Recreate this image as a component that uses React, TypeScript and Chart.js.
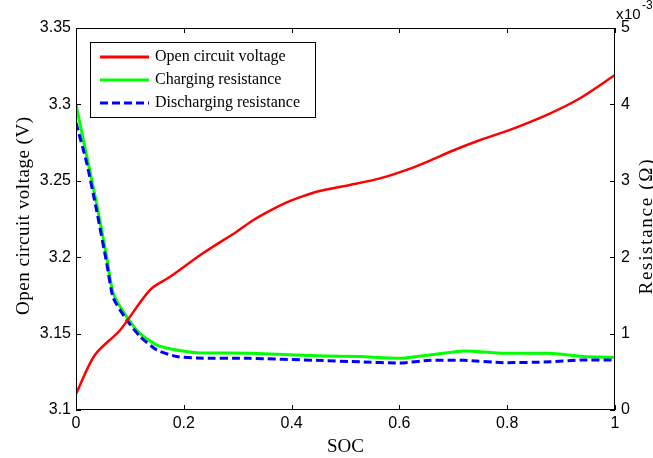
import { useEffect, useRef } from 'react';
import { Chart, registerables } from 'chart.js';

Chart.register(...registerables);

// ---- data ----
const ocvSoc = [0, 0.035, 0.082, 0.137, 0.174, 0.236, 0.298, 0.33, 0.36, 0.39, 0.416, 0.45, 0.508, 0.564, 0.62, 0.66, 0.694, 0.75, 0.805, 0.879, 0.935, 1.0];
const ocvValues = [3.1105, 3.136, 3.1524, 3.1785, 3.187, 3.2027, 3.2167, 3.2245, 3.2305, 3.2357, 3.2393, 3.2432, 3.2473, 3.2516, 3.258, 3.2637, 3.2690, 3.2767, 3.2833, 3.294, 3.304, 3.3192];

const resSoc = [0, 0.02, 0.038, 0.057, 0.069, 0.094, 0.119, 0.15, 0.187, 0.224, 0.323, 0.4465, 0.527, 0.601, 0.657, 0.719, 0.793, 0.879, 0.941, 1.0];
// resistance values in units of 1e-3 Ohm
const chargingRes = [4.0, 3.32, 2.71, 2.0, 1.53, 1.22, 1.0, 0.85, 0.785, 0.75, 0.742, 0.71, 0.7, 0.676, 0.72, 0.772, 0.742, 0.742, 0.7, 0.69];
const dischargingRes = [3.76, 3.23, 2.62, 1.92, 1.47, 1.18, 0.96, 0.785, 0.7, 0.68, 0.676, 0.65, 0.63, 0.615, 0.65, 0.65, 0.62, 0.63, 0.655, 0.655];

const xTicks = [0, 0.2, 0.4, 0.6, 0.8, 1];
const xTickLabels = ['0', '0.2', '0.4', '0.6', '0.8', '1'];
const leftTicks = [3.1, 3.15, 3.2, 3.25, 3.3, 3.35];
const leftTickLabels = ['3.1', '3.15', '3.2', '3.25', '3.3', '3.35'];
const rightTicks = [0, 1, 2, 3, 4, 5];
const rightTickLabels = ['0', '1', '2', '3', '4', '5'];

const seriesNames = ['Open circuit voltage', 'Charging resistance', 'Discharging resistance'];
const seriesColors = ['#ff0000', '#00ff00', '#0000ff'];
const xTitle = 'SOC';
const leftTitle = 'Open circuit voltage (V)';
const rightTitle = 'Resistance (\u03A9)';

const SANS = "'Liberation Sans', Arial, sans-serif";
const SERIF = "'Liberation Serif', 'Times New Roman', serif";

function drawSpaced(ctx: CanvasRenderingContext2D, text: string, target: number) {
  (ctx as any).letterSpacing = '0px';
  const w = ctx.measureText(text).width;
  const sp = Math.max(0, (target - w) / (text.length - 1));
  (ctx as any).letterSpacing = sp + 'px';
  const w2 = ctx.measureText(text).width - sp;
  ctx.fillText(text, -w2 / 2, 0);
  (ctx as any).letterSpacing = '0px';
}

const decorPlugin = {
  id: 'decor',
  afterDraw(chart: any) {
    const ctx: CanvasRenderingContext2D = chart.ctx;
    const { left, right, top, bottom } = chart.chartArea;
    const xs = chart.scales.x;
    const ys = chart.scales.y;
    const ys1 = chart.scales.y1;
    ctx.save();
    ctx.strokeStyle = '#000';
    ctx.lineWidth = 1;
    // box
    ctx.strokeRect(Math.round(left) + 0.5, Math.round(top) + 0.5, Math.round(right - left) - 1, Math.round(bottom - top) - 1);
    const tl = 5;
    ctx.beginPath();
    xTicks.forEach((v) => {
      const px = Math.round(xs.getPixelForValue(v)) + 0.5;
      ctx.moveTo(px, bottom);
      ctx.lineTo(px, bottom - tl);
      ctx.moveTo(px, top);
      ctx.lineTo(px, top + tl);
    });
    leftTicks.forEach((v) => {
      const py = Math.round(ys.getPixelForValue(v)) + 0.5;
      ctx.moveTo(left, py);
      ctx.lineTo(left + tl, py);
    });
    rightTicks.forEach((v) => {
      const py = Math.round(ys1.getPixelForValue(v)) + 0.5;
      ctx.moveTo(right, py);
      ctx.lineTo(right - tl, py);
    });
    ctx.stroke();

    // tick labels
    ctx.fillStyle = '#000';
    ctx.font = `16px ${SANS}`;
    ctx.textBaseline = 'middle';
    ctx.textAlign = 'center';
    xTicks.forEach((v, i) => {
      ctx.fillText(xTickLabels[i], xs.getPixelForValue(v), bottom + 14);
    });
    ctx.textAlign = 'right';
    leftTicks.forEach((v, i) => {
      ctx.fillText(leftTickLabels[i], left - 5, ys.getPixelForValue(v));
    });
    ctx.textAlign = 'left';
    rightTicks.forEach((v, i) => {
      ctx.fillText(rightTickLabels[i], right + 6, ys1.getPixelForValue(v));
    });

    // exponent
    ctx.textBaseline = 'alphabetic';
    ctx.font = `15px ${SANS}`;
    ctx.fillText('x', right + 1, 19);
    ctx.fillText('10', right + 9, 19);
    ctx.font = `12px ${SANS}`;
    ctx.fillText('-3', right + 27, 9);

    // axis titles
    ctx.font = `19px ${SERIF}`;
    ctx.textAlign = 'center';
    ctx.textBaseline = 'alphabetic';
    ctx.fillText(xTitle, (left + right) / 2, 452);

    ctx.textAlign = 'left';
    ctx.save();
    ctx.translate(29, 216);
    ctx.rotate(-Math.PI / 2);
    drawSpaced(ctx, leftTitle, 198);
    ctx.restore();

    ctx.save();
    ctx.translate(652, 227);
    ctx.rotate(-Math.PI / 2);
    drawSpaced(ctx, rightTitle, 135);
    ctx.restore();

    // legend
    const lx = 90.5, ly = 42.5, lw = 225, lh = 75;
    ctx.fillStyle = '#fff';
    ctx.fillRect(lx, ly, lw, lh);
    ctx.strokeStyle = '#000';
    ctx.lineWidth = 1;
    ctx.strokeRect(lx, ly, lw, lh);
    const rows = [57, 80, 103];
    ctx.font = `16px ${SERIF}`;
    ctx.textBaseline = 'middle';
    ctx.textAlign = 'left';
    rows.forEach((ry, i) => {
      ctx.beginPath();
      ctx.strokeStyle = seriesColors[i];
      ctx.lineWidth = 3;
      ctx.setLineDash(i === 2 ? [8, 4] : []);
      ctx.moveTo(100, ry);
      ctx.lineTo(149, ry);
      ctx.stroke();
      ctx.setLineDash([]);
      ctx.fillStyle = '#000';
      ctx.fillText(seriesNames[i], 155, ry);
    });
    ctx.restore();
  },
};

export default function App() {
  const ref = useRef<HTMLCanvasElement | null>(null);
  useEffect(() => {
    document.body.style.margin = '0';
    const canvas = ref.current;
    if (!canvas) return;
    const chart = new Chart(canvas, {
      type: 'line',
      data: {
        datasets: [
          {
            label: seriesNames[0],
            data: ocvSoc.map((x, i) => ({ x, y: ocvValues[i] })),
            borderColor: seriesColors[0],
            borderWidth: 2.5,
            pointRadius: 0,
            tension: 0.3,
            yAxisID: 'y',
            order: 0,
          },
          {
            label: seriesNames[1],
            data: resSoc.map((x, i) => ({ x, y: chargingRes[i] })),
            borderColor: seriesColors[1],
            borderWidth: 3,
            pointRadius: 0,
            tension: 0.2,
            yAxisID: 'y1',
            order: 2,
          },
          {
            label: seriesNames[2],
            data: resSoc.map((x, i) => ({ x, y: dischargingRes[i] })),
            borderColor: seriesColors[2],
            borderWidth: 3,
            borderDash: [8, 4],
            pointRadius: 0,
            tension: 0.2,
            yAxisID: 'y1',
            order: 1,
          },
        ],
      },
      options: {
        responsive: false,
        animation: false,
        devicePixelRatio: 1,
        layout: { padding: { top: 28, left: 0, right: 0, bottom: 0 } },
        plugins: { legend: { display: false }, tooltip: { enabled: false } },
        scales: {
          x: {
            type: 'linear',
            min: 0,
            max: 1,
            grid: { display: false },
            border: { display: false },
            ticks: { display: false },
            afterFit: (s: any) => { s.height = 48; },
          },
          y: {
            type: 'linear',
            position: 'left',
            min: 3.1,
            max: 3.35,
            grid: { display: false },
            border: { display: false },
            ticks: { display: false },
            afterFit: (s: any) => { s.width = 76; },
          },
          y1: {
            type: 'linear',
            position: 'right',
            min: 0,
            max: 5,
            grid: { display: false },
            border: { display: false },
            ticks: { display: false },
            afterFit: (s: any) => { s.width = 38; },
          },
        },
      } as any,
      plugins: [decorPlugin],
    });
    return () => chart.destroy();
  }, []);
  return <canvas ref={ref} width={653} height={458} style={{ display: 'block' }} />;
}
